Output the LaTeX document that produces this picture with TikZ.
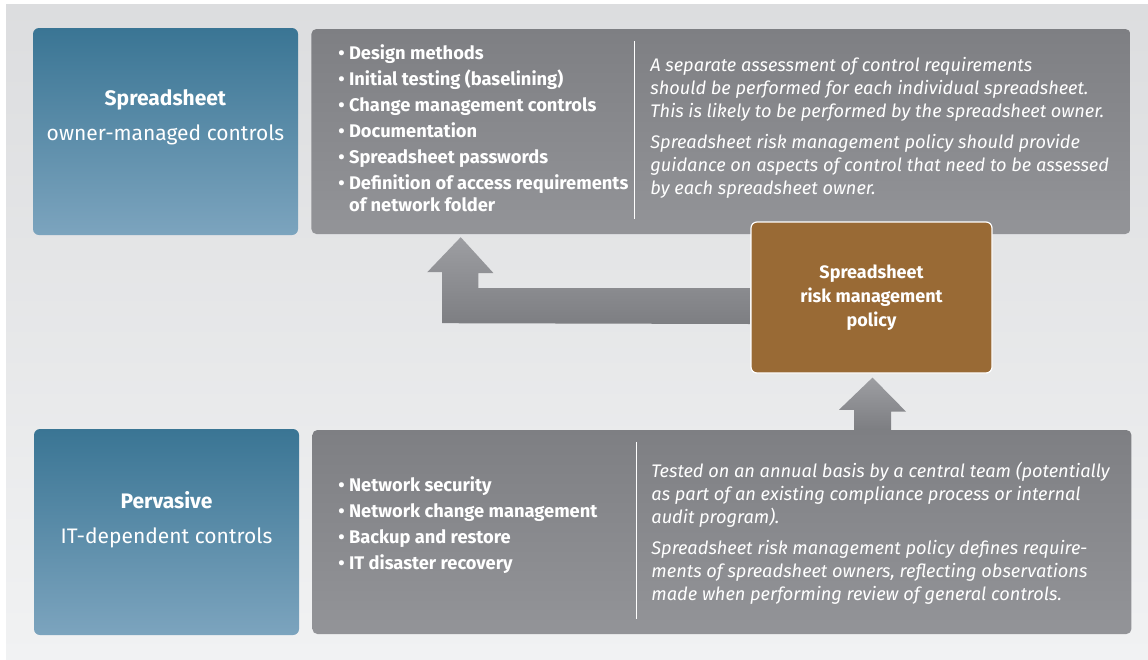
\documentclass[tikz,border=0pt]{standalone}
\usepackage{fontspec}
\setmainfont{Fira Sans}
\usetikzlibrary{positioning, calc}

\definecolor{bgtop}{HTML}{DCDDDF}
\definecolor{bgbottom}{HTML}{F1F2F3}
\definecolor{bluetop}{HTML}{3A7594}
\definecolor{bluebottom}{HTML}{7CA4BE}
\definecolor{greytop}{HTML}{7E7F83}
\definecolor{greybottom}{HTML}{939498}
\definecolor{arrowtop}{HTML}{9D9EA2}
\definecolor{arrowbottom}{HTML}{7D7E82}
\definecolor{policybrown}{HTML}{996A35}

\begin{document}
\begin{tikzpicture}[x=1pt, y=-1pt, node distance=13pt and 13pt]
    \tikzset{
        sidebox/.style = {rectangle, rounded corners=6pt, top color=bluetop, bottom color=bluebottom, minimum width=265pt, minimum height=207pt, inner sep=0pt},
        panel/.style = {rectangle, rounded corners=5pt, top color=greytop, bottom color=greybottom, minimum width=819pt, minimum height=205pt, inner sep=0pt},
        policybox/.style = {rectangle, rounded corners=6pt, fill=policybrown, draw=white, line width=1.2pt, minimum width=241pt, minimum height=151pt, text=white, align=center, font=\bfseries\fontsize{18}{24}\selectfont},
        sidetext/.style = {text=white, align=center, font=\fontsize{21}{35}\selectfont},
        listtext/.style = {text=white, align=left, inner sep=0pt, anchor=north west, font=\bfseries\fontsize{18.3}{22}\selectfont},
        notetext/.style = {text=white, align=left, inner sep=0pt, anchor=north west, font=\itshape\fontsize{18.2}{23}\selectfont},
        divider/.style = {draw=white, line width=0.9pt},
        fatarrow/.style = {top color=arrowtop, bottom color=arrowbottom}
    }
    \useasboundingbox (0,0) rectangle (1148,659);
    \fill[white] (0,0) rectangle (1148,659);
    \shade[top color=bgtop, bottom color=bgbottom] (6,4) rectangle (1148,659);

    \node[sidebox] (ownerbox) at (165.5,131.5) {};
    \node[sidetext] (ownertitle) at ($(ownerbox.center)+(0,-14)$) {\textbf{Spreadsheet}\\owner-managed controls};
    \node[panel, right=of ownerbox] (ownerpanel) {};
    \draw[divider] ($(ownerpanel.north west)+(323,12)$) -- ++(0,178);
    \node[listtext] (ownerlist) at ($(ownerpanel.north west)+(27,16)$) {%
        \textbullet\ Design methods\\[4pt]
        \textbullet\ Initial testing (baselining)\\[4pt]
        \textbullet\ Change management controls\\[4pt]
        \textbullet\ Documentation\\[4pt]
        \textbullet\ Spreadsheet passwords\\[4pt]
        \textbullet\ Definition of access requirements\\
        \phantom{\textbullet\ }of network folder};
    \node[notetext] (ownernote) at ($(ownerpanel.north west)+(339,28)$) {%
        A separate assessment of control requirements\\
        should be performed for each individual spreadsheet.\\
        This is likely to be performed by the spreadsheet owner.\\[8pt]
        Spreadsheet risk management policy should provide\\
        guidance on aspects of control that need to be assessed\\
        by each spreadsheet owner.};

    \node[sidebox, minimum height=206pt] (pervbox) at (166.5,532) {};
    \node[sidetext] (pervtitle) at ($(pervbox.center)+(0,-12)$) {\textbf{Pervasive}\\IT-dependent controls};
    \node[panel, minimum height=204pt, right=of pervbox] (pervpanel) {};
    \draw[divider] ($(pervpanel.north west)+(324,12)$) -- ++(0,177);
    \node[listtext] (pervlist) at ($(pervpanel.north west)+(26,47)$) {%
        \textbullet\ Network security\\[4pt]
        \textbullet\ Network change management\\[4pt]
        \textbullet\ Backup and restore\\[4pt]
        \textbullet\ IT disaster recovery};
    \node[notetext] (pervnote) at ($(pervpanel.north west)+(339,32)$) {%
        Tested on an annual basis by a central team (potentially\\
        as part of an existing compliance process or internal\\
        audit program).\\[8pt]
        Spreadsheet risk management policy defines require-\\
        ments of spreadsheet owners, reflecting observations\\
        made when performing review of general controls.};

    \node[policybox] (policy) at (871.5,297.5) {Spreadsheet\\risk management\\policy};

    \shade[fatarrow] ($(policy.west)+(0,-9.5)$) -- ++(-272,0) -- ++(0,-15) -- ++(15,0)
        -- ($(ownerpanel.south west)+(149.5,3)$) -- ++(-33.5,35) -- ++(15,0) -- ++(0,51) -- ($(policy.west)+(0,26.5)$) -- cycle;
    \shade[fatarrow] ($(policy.south)+(1,4)$) -- ++(33.5,34) -- ++(-15,0) -- (pervpanel.north -| 891,0)
        -- (pervpanel.north -| 854,0) -- ++(0,-20) -- ++(-15,0) -- cycle;
\end{tikzpicture}
\end{document}
